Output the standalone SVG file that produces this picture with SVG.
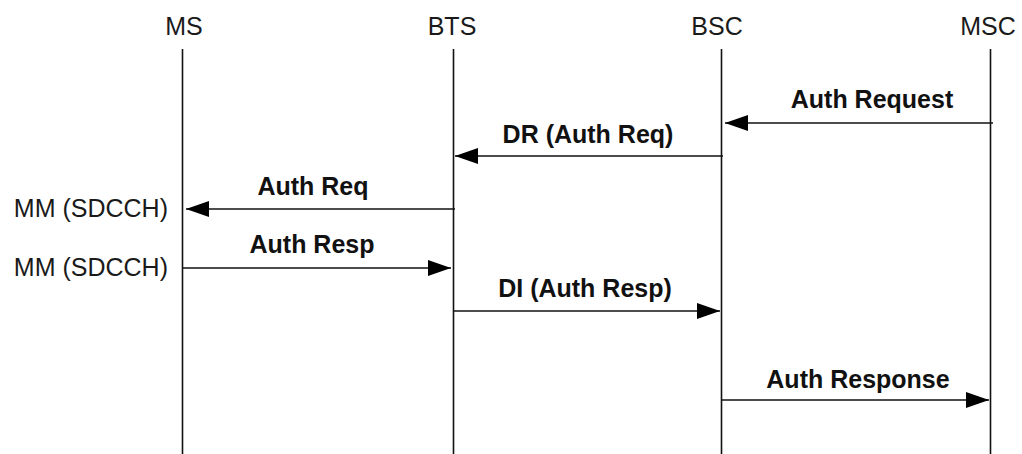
<svg xmlns="http://www.w3.org/2000/svg" width="1022" height="454" viewBox="0 0 1022 454">
  <style>
    .hdr { font-family: "Liberation Sans", Arial, sans-serif; font-size: 25px; fill: #1a1a1a; text-anchor: middle; }
    .side { font-family: "Liberation Sans", Arial, sans-serif; font-size: 25px; fill: #1a1a1a; text-anchor: end; }
    .msg { font-family: "Liberation Sans", Arial, sans-serif; font-size: 25px; font-weight: bold; fill: #111; text-anchor: middle; }
    .life { stroke: #111; stroke-width: 1.6; fill: none; }
    .arrow { stroke: #111; stroke-width: 1.6; fill: none; marker-end: url(#head); }
  </style>
  <defs>
    <marker id="head" markerUnits="userSpaceOnUse" markerWidth="24" markerHeight="16" refX="23" refY="8" orient="auto">
      <path d="M0,0 L23,8 L0,16 Z" fill="#000"/>
    </marker>
  </defs>
  <rect width="1022" height="454" fill="#fff"/>

  <!-- entities with lifelines -->
  <g id="ms">
    <text class="hdr" x="184" y="35">MS</text>
    <line class="life" x1="182.5" y1="49" x2="182.5" y2="454"/>
  </g>
  <g id="bts">
    <text class="hdr" x="452" y="35">BTS</text>
    <line class="life" x1="453.5" y1="49" x2="453.5" y2="454"/>
  </g>
  <g id="bsc">
    <text class="hdr" x="717" y="35">BSC</text>
    <line class="life" x1="721.5" y1="49" x2="721.5" y2="454"/>
  </g>
  <g id="msc">
    <text class="hdr" x="988" y="35">MSC</text>
    <line class="life" x1="990.5" y1="49" x2="990.5" y2="454"/>
  </g>

  <!-- channel annotations beside MS -->
  <g id="ms-notes">
    <text class="side" x="168" y="217">MM (SDCCH)</text>
    <text class="side" x="168" y="276">MM (SDCCH)</text>
  </g>

  <!-- messages -->
  <g id="connectors">
    <line class="arrow" x1="993" y1="123" x2="725" y2="123"/>
    <text class="msg" x="872" y="108">Auth Request</text>

    <line class="arrow" x1="723" y1="156" x2="455" y2="156"/>
    <text class="msg" x="588" y="143">DR (Auth Req)</text>

    <line class="arrow" x1="455" y1="209" x2="186" y2="209"/>
    <text class="msg" x="313" y="195">Auth Req</text>

    <line class="arrow" x1="182" y1="268" x2="451" y2="268"/>
    <text class="msg" x="312" y="253">Auth Resp</text>

    <line class="arrow" x1="453" y1="311" x2="720" y2="311"/>
    <text class="msg" x="585" y="297">DI (Auth Resp)</text>

    <line class="arrow" x1="721" y1="400" x2="989" y2="400"/>
    <text class="msg" x="858" y="388">Auth Response</text>
  </g>
</svg>
